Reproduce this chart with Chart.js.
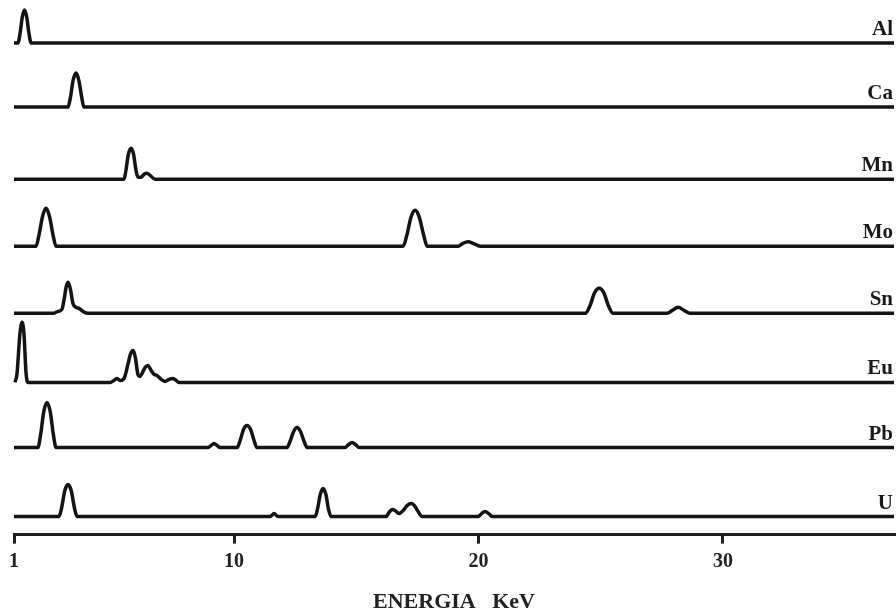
<!DOCTYPE html>
<html>
<head>
<meta charset="utf-8">
<script src="https://cdn.jsdelivr.net/npm/chart.js@4/dist/chart.umd.min.js"></script>
<style>
  html, body { margin: 0; padding: 0; background: #ffffff; }
  #wrap { width: 896px; height: 611px; }
</style>
</head>
<body>
<div id="wrap"><canvas id="c" width="896" height="611"></canvas></div>
<script>
// ---- data (energy in keV, counts above each trace's baseline) ----
const elements = ['Al', 'Ca', 'Mn', 'Mo', 'Sn', 'Eu', 'Pb', 'U'];
const baselines = [491, 427, 355, 288, 221, 152, 87, 18];
const xTicks = [1, 10, 20, 30];

const alKeV    = [1.00, 1.16, 1.25, 1.34, 1.43, 1.52, 1.61, 1.70, 37.0];
const alCounts = [0, 0, 10, 26, 33, 26, 10, 0, 0];

const caKeV    = [1.00, 3.21, 3.31, 3.42, 3.54, 3.65, 3.77, 3.86, 37.0];
const caCounts = [0, 0, 10, 27, 34, 27, 10, 0, 0];

const mnKeV    = [1.00, 5.50, 5.58, 5.68, 5.79, 5.89, 5.99, 6.07, 6.20, 6.32, 6.44, 6.56, 6.77, 37.0];
const mnCounts = [0, 0, 9, 25, 31, 25, 9, 2, 2, 5, 6, 4, 0, 0];

const moKeV    = [1.00, 1.90, 2.02, 2.17, 2.31, 2.45, 2.60, 2.72, 16.92, 17.07, 17.24, 17.41, 17.58, 17.76, 17.90, 19.17, 19.37, 19.58, 19.78, 20.07, 37.0];
const moCounts = [0, 0, 11, 30, 38, 30, 11, 0, 0, 11, 29, 36, 29, 11, 0, 0, 3, 4.5, 3, 0, 0];

const snKeV    = [1.00, 2.60, 2.80, 2.96, 3.05, 3.13, 3.21, 3.31, 3.41, 3.54, 3.66, 3.82, 4.03, 24.37, 24.57, 24.74, 24.94, 25.14, 25.31, 25.51, 27.72, 27.93, 28.17, 28.41, 28.66, 37.0];
const snCounts = [0, 0, 2, 4, 14, 26, 31, 24, 10, 6, 5, 2, 0, 0, 8, 20, 25, 20, 8, 0, 0, 3, 6, 3, 0, 0];

const euKeV    = [1.04, 1.12, 1.24, 1.33, 1.41, 1.49, 1.57, 4.93, 5.09, 5.21, 5.34, 5.50, 5.66, 5.76, 5.87, 5.97, 6.07, 6.16, 6.26, 6.36, 6.48, 6.61, 6.73, 6.85, 7.02, 7.18, 7.34, 7.51, 7.63, 7.75, 37.0];
const euCounts = [0, 8, 48, 60, 48, 10, 0, 0, 2, 4, 2, 4, 18, 28, 32, 24, 8, 6, 10, 15, 17, 12, 8, 7, 3, 1, 3, 4, 2, 0, 0];

const pbKeV    = [1.00, 1.98, 2.09, 2.22, 2.35, 2.48, 2.61, 2.72, 8.94, 9.06, 9.18, 9.31, 9.43, 10.13, 10.25, 10.39, 10.53, 10.68, 10.82, 10.94, 12.17, 12.29, 12.44, 12.58, 12.72, 12.87, 12.99, 14.54, 14.69, 14.83, 14.97, 15.12, 37.0];
const pbCounts = [0, 0, 13, 36, 45, 36, 13, 0, 0, 2, 4, 2, 0, 0, 7, 18, 22, 18, 7, 0, 0, 6, 16, 20, 16, 6, 0, 0, 3, 5, 3, 0, 0];

const uKeV     = [1.00, 2.84, 2.95, 3.08, 3.21, 3.34, 3.47, 3.58, 11.48, 11.64, 11.80, 13.32, 13.42, 13.53, 13.64, 13.76, 13.86, 13.97, 16.22, 16.34, 16.47, 16.59, 16.75, 16.92, 17.08, 17.25, 17.41, 17.53, 17.70, 19.99, 20.13, 20.27, 20.42, 20.56, 37.0];
const uCounts  = [0, 0, 9, 26, 32, 26, 9, 0, 0, 3, 0, 0, 8, 22, 28, 22, 8, 0, 0, 4, 7, 6, 3, 6, 11, 13, 10, 5, 0, 0, 3, 5, 3, 0, 0];

const spectraKeV    = [alKeV, caKeV, mnKeV, moKeV, snKeV, euKeV, pbKeV, uKeV];
const spectraCounts = [alCounts, caCounts, mnCounts, moCounts, snCounts, euCounts, pbCounts, uCounts];

// ---- build datasets ----
const datasets = elements.map((name, i) => ({
  label: name,
  data: spectraKeV[i].map((e, j) => ({ x: e, y: baselines[i] + spectraCounts[i][j] })),
  borderColor: '#141414',
  borderWidth: 3.5,
  pointRadius: 0,
  fill: false,
  cubicInterpolationMode: 'monotone',
  borderJoinStyle: 'round',
  borderCapStyle: 'butt',
  clip: false,
  baseOffset: baselines[i]
}));

const traceLabels = {
  id: 'traceLabels',
  afterDatasetsDraw(chart) {
    const ctx = chart.ctx;
    const ys = chart.scales.y;
    const right = chart.chartArea.right;
    ctx.save();
    ctx.font = 'bold 21px "Liberation Serif", "DejaVu Serif", serif';
    ctx.fillStyle = '#1a1a1a';
    ctx.textAlign = 'right';
    ctx.textBaseline = 'alphabetic';
    chart.data.datasets.forEach(ds => {
      const y = ys.getPixelForValue(ds.baseOffset);
      ctx.fillText(ds.label, right - 1, y - 8);
    });
    ctx.restore();
  }
};

new Chart(document.getElementById('c'), {
  type: 'line',
  data: { datasets },
  options: {
    responsive: false,
    devicePixelRatio: 1,
    animation: false,
    layout: { padding: { left: 14, right: 2, top: 0, bottom: -7 } },
    plugins: {
      legend: { display: false },
      tooltip: { enabled: false },
      title: { display: false }
    },
    scales: {
      x: {
        type: 'linear',
        min: 1,
        max: 37,
        afterBuildTicks(scale) { scale.ticks = xTicks.map(v => ({ value: v })); },
        border: { display: true, color: '#1e1e1e', width: 3 },
        grid: { display: true, drawOnChartArea: false, drawTicks: true, tickLength: 9, color: '#1e1e1e', lineWidth: 3 },
        ticks: {
          autoSkip: false,
          maxRotation: 0,
          padding: 6,
          color: '#222',
          font: { family: '"Liberation Serif", "DejaVu Serif", serif', size: 20, weight: 'bold' },
          callback: (v) => String(v)
        },
        title: {
          display: true,
          text: 'ENERGIA   KeV',
          color: '#222',
          padding: { top: 10, bottom: 2 },
          font: { family: '"Liberation Serif", "DejaVu Serif", serif', size: 22, weight: 'bold' }
        }
      },
      y: {
        type: 'linear',
        display: false,
        min: 0,
        max: 534
      }
    }
  },
  plugins: [traceLabels]
});
</script>
</body>
</html>
